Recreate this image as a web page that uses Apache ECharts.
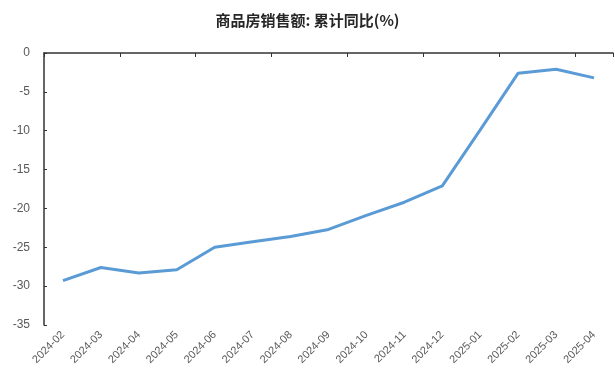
<!DOCTYPE html>
<html><head><meta charset="utf-8">
<script src="https://cdn.jsdelivr.net/npm/echarts@6/dist/echarts.min.js"></script>
<style>html,body{margin:0;padding:0;background:#fff}#c{width:615px;height:381px}</style>
</head><body><div id="c"></div>
<script>
var categories = ['2024-02','2024-03','2024-04','2024-05','2024-06','2024-07','2024-08','2024-09','2024-10','2024-11','2024-12','2025-01','2025-02','2025-03','2025-04'];
var values = [-29.3,-27.6,-28.3,-27.9,-25.0,-24.3,-23.6,-22.7,-20.9,-19.2,-17.1,-9.9,-2.6,-2.1,-3.2];
var yMin = -35, yMax = 0, yStep = 5;
var chart = echarts.init(document.getElementById('c'));
chart.setOption({
  animation:false,
  title:{text:'商品房销售额: 累计同比(%)',left:'center',top:8,textStyle:{fontFamily:'Noto Sans CJK SC',fontWeight:'bold',fontSize:15,color:'#262626'}},
  grid:{left:44,right:2,top:53,bottom:56},
  xAxis:[{type:'category',data:categories,position:'bottom',boundaryGap:true,
    axisLine:{show:false},axisTick:{show:false},
    axisLabel:{rotate:45,margin:8,fontFamily:'Liberation Sans',fontSize:11,color:'#595959',interval:0}},
   {type:'category',data:categories,position:'top',boundaryGap:true,
    axisLine:{show:true,onZero:false,lineStyle:{color:'#333',width:1.5}},
    axisTick:{show:true,inside:true,length:4,lineStyle:{color:'#333'}},
    axisLabel:{show:false}}],
  yAxis:{type:'value',min:yMin,max:yMax,interval:yStep,
    axisLine:{show:true,lineStyle:{color:'#333',width:1.5}},
    axisTick:{show:true,inside:true,length:3,lineStyle:{color:'#333'}},
    splitLine:{show:false},
    axisLabel:{fontFamily:'Liberation Sans',fontSize:12,color:'#595959',margin:14}},
  series:[{type:'line',data:values,symbol:'none',lineStyle:{color:'#5B9BD5',width:3}}]
});
</script></body></html>
